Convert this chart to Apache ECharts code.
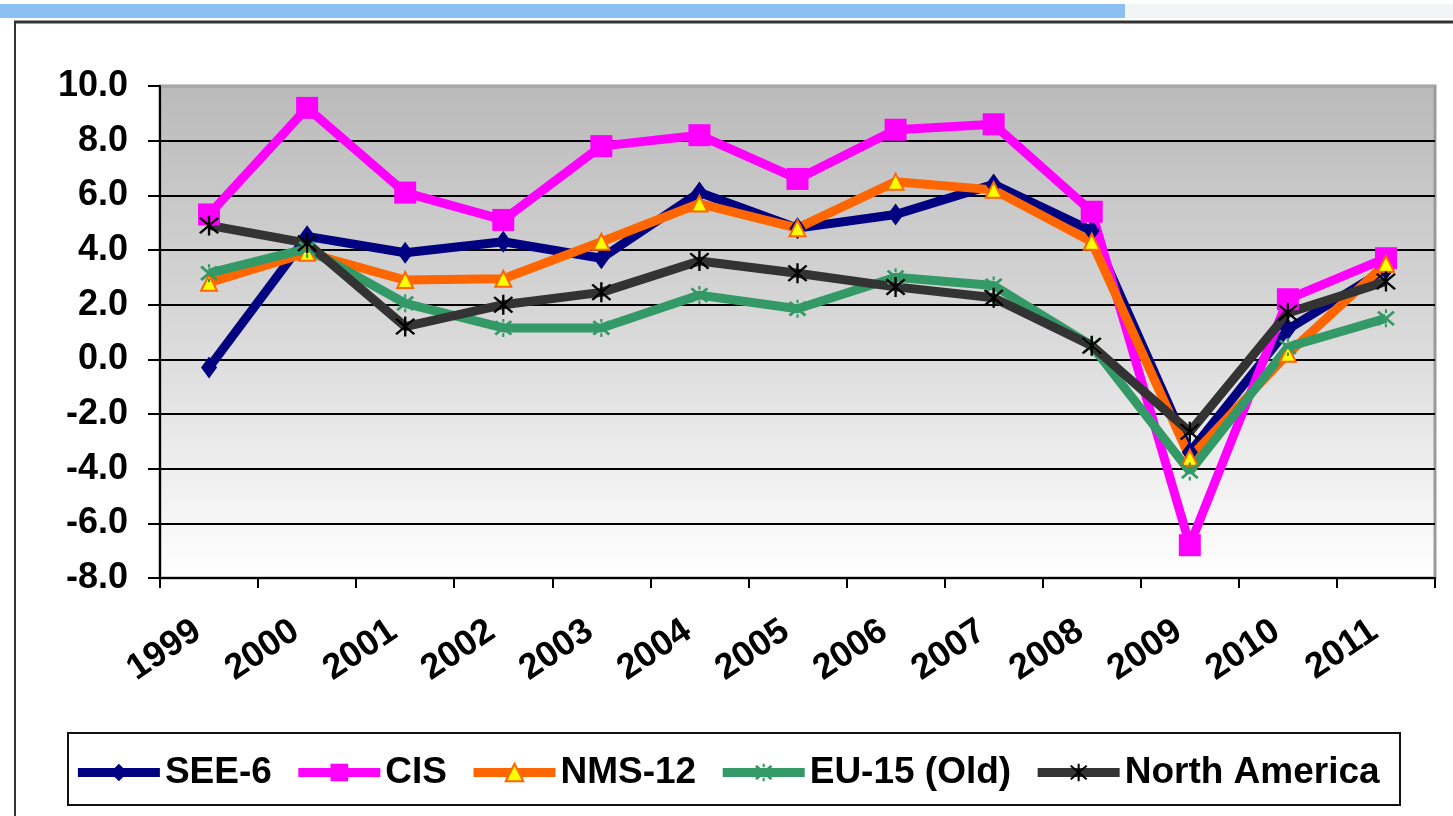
<!DOCTYPE html>
<html><head><meta charset="utf-8">
<script src="https://cdn.jsdelivr.net/npm/echarts@6/dist/echarts.min.js"></script>
<style>html,body{margin:0;padding:0;background:#fff;}#c{width:1453px;height:816px;}</style>
</head><body><div id="c"></div>
<script>
const years = ['1999','2000','2001','2002','2003','2004','2005','2006','2007','2008','2009','2010','2011'];
const yTicks = [-8,-6,-4,-2,0,2,4,6,8,10];
const see6 = [-0.3, 4.5, 3.9, 4.3, 3.7, 6.1, 4.8, 5.3, 6.4, 4.7, -3.4, 1.1, 3.3];
const cis = [5.3, 9.2, 6.1, 5.1, 7.8, 8.2, 6.6, 8.4, 8.6, 5.4, -6.8, 2.2, 3.7];
const nms12 = [2.8, 3.9, 2.9, 2.95, 4.3, 5.7, 4.8, 6.5, 6.2, 4.3, -3.6, 0.2, 3.5];
const eu15 = [3.15, 4.05, 2.05, 1.15, 1.15, 2.35, 1.85, 3.0, 2.7, 0.5, -4.1, 0.45, 1.5];
const northAmerica = [4.9, 4.25, 1.2, 2.0, 2.45, 3.6, 3.15, 2.65, 2.25, 0.5, -2.65, 1.7, 2.85];
const seriesNames = ['SEE-6','CIS','NMS-12','EU-15 (Old)','North America'];

const chart = echarts.init(document.getElementById('c'));
const asterisk = 'path://M9,0L11,0L11,20L9,20Z M1.5,3L3,1.5L18.5,17L17,18.5Z M17,1.5L18.5,3L3,18.5L1.5,17Z';
const xmark = 'path://M1.5,3.5L3.5,1.5L18.5,16.5L16.5,18.5Z M16.5,1.5L18.5,3.5L3.5,18.5L1.5,16.5Z M9,0L11,0L11,4L9,4Z M9,16L11,16L11,20L9,20Z';
const font = 'Liberation Sans, Arial, sans-serif';
const gridColors = ['#000','#000','#000','#000','#000','#000','#000','#000','#000','#a8a8a8'];

function mk(name, data, color, symbol, size, itemStyle){
  return {name, type:'line', data, symbol, symbolSize:size, showAllSymbol:true,
    lineStyle:{color, width:9}, itemStyle: itemStyle || {color}, emphasis:{disabled:true}, animation:false};
}
chart.setOption({
  animation:false,
  textStyle:{fontFamily:font},
  graphic:[
    {type:'rect', shape:{x:0,y:4,width:1125,height:14}, style:{fill:'#8dc0f2'}, z:0},
    {type:'rect', shape:{x:1125,y:4,width:328,height:14}, style:{fill:'#f3f4f6'}, z:0},
    {type:'line', shape:{x1:14,y1:22,x2:1453,y2:22}, style:{stroke:'#333',lineWidth:3}, z:0},
    {type:'line', shape:{x1:15,y1:22,x2:15,y2:816}, style:{stroke:'#333',lineWidth:2}, z:0},
    {type:'rect', shape:{x:68,y:733,width:1332,height:72}, style:{fill:'#fff',stroke:'#111',lineWidth:2}, z:0}
  ],
  grid:{left:160,right:18,top:86,bottom:238,show:true,borderColor:'#9a9a9a',borderWidth:3,
    backgroundColor:new echarts.graphic.LinearGradient(0,0,0,1,[{offset:0,color:'#bababa'},{offset:0.5,color:'#d9d9d9'},{offset:1,color:'#ffffff'}])},
  legend:{left:'center',top:749,itemWidth:82,itemHeight:22,itemGap:22,
    lineStyle:{width:9},
    textStyle:{fontSize:37,fontWeight:'bold',color:'#000',fontFamily:font},
    data:seriesNames},
  xAxis:{type:'category',data:years,boundaryGap:true,
    axisLine:{onZero:false,lineStyle:{color:'#000',width:2}},
    axisTick:{show:true,length:10,lineStyle:{color:'#000',width:2}},
    axisLabel:{rotate:34,fontSize:36,fontWeight:'bold',color:'#000',margin:42,padding:[0,14,0,0],interval:0}},
  yAxis:{type:'value',min:-8,max:10,interval:2,
    axisLine:{show:true,lineStyle:{color:'#000',width:2}},
    axisTick:{show:true,length:12,lineStyle:{color:'#000',width:2}},
    axisLabel:{fontSize:36,fontWeight:'bold',color:'#000',margin:32,formatter:v=>v.toFixed(1)},
    splitLine:{show:true,lineStyle:{color:gridColors,width:2}}},
  series:[
    mk('SEE-6', see6, '#000080', 'diamond', [16,22]),
    mk('CIS', cis, '#ff00ff', 'rect', 22),
    mk('NMS-12', nms12, '#ff6600', 'triangle', 16, {color:'#ffff00', borderColor:'#ff6600', borderWidth:2}),
    mk('EU-15 (Old)', eu15, '#339966', xmark, 18, {color:'#339966'}),
    mk('North America', northAmerica, '#333333', asterisk, 20, {color:'#000'})
  ]
});
</script></body></html>
